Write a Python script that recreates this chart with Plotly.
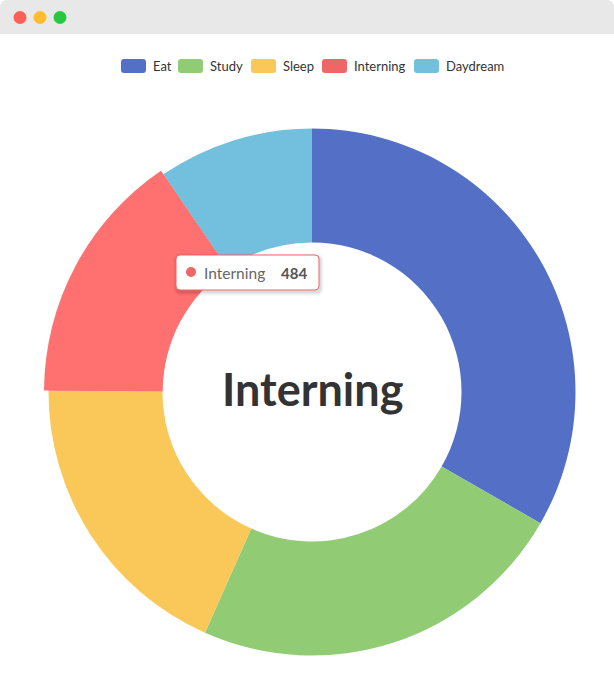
import plotly.graph_objects as go

# ---------------- data ----------------
categories = ["Eat", "Study", "Sleep", "Interning", "Daydream"]
values = [1048, 735, 580, 484, 300]
highlight = "Interning"

# ---------------- styles / layout ----------------
colors = ["#5470c6", "#91cc75", "#fac858", "#ee6666", "#73c0de"]
highlight_color = "#ff7070"
W, H = 614, 675
CX, CY = 312, 392
R_OUT, R_IN, R_EMPH = 263.5, 149.5, 268
legend_x = [121, 178, 251, 322, 414]
legend_y = 66
FONT = "Lato, 'Noto Sans', sans-serif"


def X(px):
    return px / W


def Y(py):
    return 1 - py / H


def dom(r):
    return dict(x=[X(CX - r), X(CX + r)], y=[Y(CY + r), Y(CY - r)])


def rrect(x0, y0, x1, y1, r):
    pts = [
        f"M{X(x0 + r)},{Y(y0)}",
        f"L{X(x1 - r)},{Y(y0)}",
        f"Q{X(x1)},{Y(y0)} {X(x1)},{Y(y0 + r)}",
        f"L{X(x1)},{Y(y1 - r)}",
        f"Q{X(x1)},{Y(y1)} {X(x1 - r)},{Y(y1)}",
        f"L{X(x0 + r)},{Y(y1)}",
        f"Q{X(x0)},{Y(y1)} {X(x0)},{Y(y1 - r)}",
        f"L{X(x0)},{Y(y0 + r)}",
        f"Q{X(x0)},{Y(y0)} {X(x0 + r)},{Y(y0)}",
        "Z",
    ]
    return " ".join(pts)


hi = categories.index(highlight)
base_colors = [highlight_color if i == hi else c for i, c in enumerate(colors)]
over_colors = [highlight_color if i == hi else "rgba(0,0,0,0)" for i in range(len(colors))]

fig = go.Figure()
fig.add_trace(go.Pie(
    labels=categories, values=values, sort=False, direction="clockwise",
    rotation=0, hole=R_IN / R_OUT, domain=dom(R_OUT),
    marker=dict(colors=base_colors, line=dict(width=0)),
    textinfo="none", hoverinfo="skip", showlegend=False,
))
fig.add_trace(go.Pie(
    labels=categories, values=values, sort=False, direction="clockwise",
    rotation=0, hole=R_IN / R_EMPH, domain=dom(R_EMPH),
    marker=dict(colors=over_colors, line=dict(width=0)),
    textinfo="none", hoverinfo="skip", showlegend=False,
))

shapes = []
annotations = []

# window title bar
bar_h = 34
shapes.append(dict(type="path", xref="paper", yref="paper",
                   path=(f"M{X(0)},{Y(bar_h)} L{X(0)},{Y(8)} Q{X(0)},{Y(0)} {X(8)},{Y(0)} "
                         f"L{X(W - 8)},{Y(0)} Q{X(W)},{Y(0)} {X(W)},{Y(8)} L{X(W)},{Y(bar_h)} Z"),
                   fillcolor="#e8e8e8", line=dict(width=0), layer="above"))
for bx, bc in zip([20, 40, 60], ["#ff5f57", "#febc2e", "#28c840"]):
    shapes.append(dict(type="circle", xref="paper", yref="paper",
                       x0=X(bx - 6.5), x1=X(bx + 6.5), y0=Y(17.5 + 6.5), y1=Y(17.5 - 6.5),
                       fillcolor=bc, line=dict(width=0), layer="above"))

# legend
for i, name in enumerate(categories):
    x0 = legend_x[i]
    shapes.append(dict(type="path", xref="paper", yref="paper",
                       path=rrect(x0, legend_y - 7, x0 + 25, legend_y + 7, 3),
                       fillcolor=colors[i], line=dict(width=0), layer="above"))
    annotations.append(dict(xref="paper", yref="paper", x=X(x0 + 29.5), y=Y(legend_y),
                            xanchor="left", yanchor="middle", showarrow=False,
                            text=name, font=dict(family=FONT, size=13, color="#333")))

# center label
annotations.append(dict(xref="paper", yref="paper", x=X(CX), y=Y(CY - 3),
                        xanchor="center", yanchor="middle", showarrow=False,
                        text=f"<b>{highlight}</b>",
                        font=dict(family=FONT, size=45, color="#333")))

# tooltip
tx0, ty0, tx1, ty1 = 176, 255, 319, 290
for k, a in enumerate([0.02, 0.03, 0.04, 0.05]):
    g = 4 - k
    shapes.append(dict(type="path", xref="paper", yref="paper",
                       path=rrect(tx0 - g + 1, ty0 - g + 2, tx1 + g + 1, ty1 + g + 2, 4 + g),
                       fillcolor=f"rgba(0,0,0,{a})", line=dict(width=0), layer="above"))
shapes.append(dict(type="path", xref="paper", yref="paper",
                   path=rrect(tx0, ty0, tx1, ty1, 4),
                   fillcolor="white", line=dict(color=colors[hi], width=1), layer="above"))
shapes.append(dict(type="circle", xref="paper", yref="paper",
                   x0=X(186), x1=X(196), y0=Y(277), y1=Y(267),
                   fillcolor=colors[hi], line=dict(width=0), layer="above"))
annotations.append(dict(xref="paper", yref="paper", x=X(201.5), y=Y(272.5),
                        xanchor="left", yanchor="middle", showarrow=False,
                        text=highlight, font=dict(family=FONT, size=15.5, color="#666")))
annotations.append(dict(xref="paper", yref="paper", x=X(309), y=Y(272.5),
                        xanchor="right", yanchor="middle", showarrow=False,
                        text=f"<b>{values[hi]}</b>", font=dict(family=FONT, size=15, color="#555")))

fig.update_layout(
    width=W, height=H, margin=dict(l=0, r=0, t=0, b=0),
    paper_bgcolor="white", plot_bgcolor="white",
    shapes=shapes, annotations=annotations, showlegend=False,
)
fig.write_html("out.html", post_script="document.body.style.margin='0';",
               config={"displayModeBar": False})
